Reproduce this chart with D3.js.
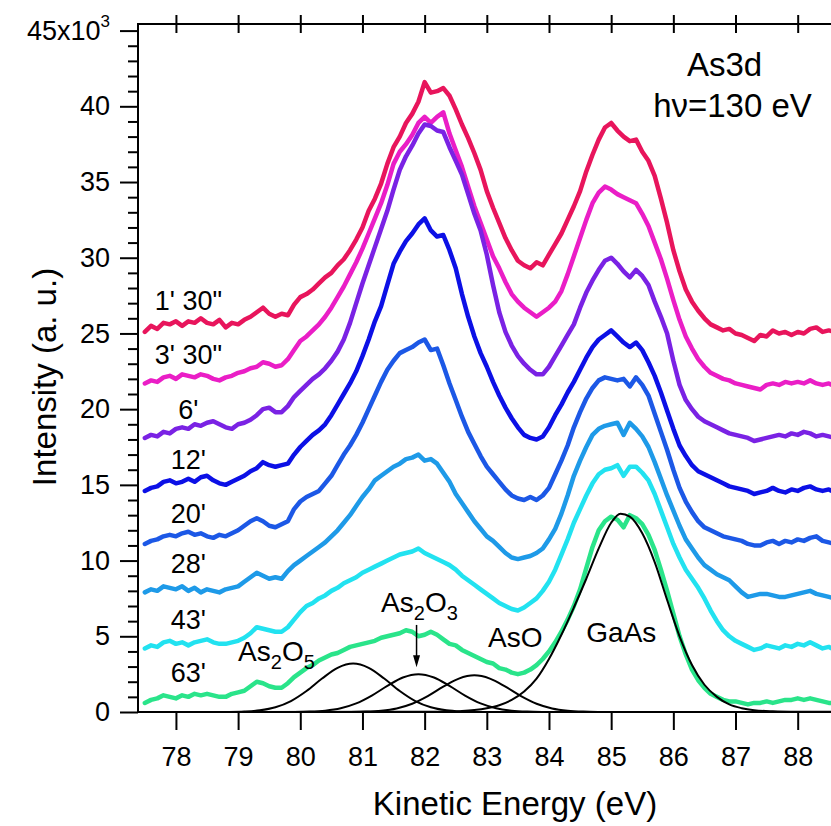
<!DOCTYPE html>
<html>
<head>
<meta charset="utf-8">
<script src="https://cdn.jsdelivr.net/npm/d3@7"></script>
<style>
  body { margin: 0; background: #fff; }
  svg { display: block; }
  text { font-family: "Liberation Sans", Arial, Helvetica, sans-serif; fill: #000; }
</style>
</head>
<body>
<svg id="chart" width="831" height="826"></svg>
<script>
// Kinetic energy grid (eV) shared by every spectrum
const energy = [
  77.5,77.6,77.7,77.8,77.9,78.0,78.1,78.2,78.3,78.4,
  78.5,78.6,78.7,78.8,78.9,79.0,79.1,79.2,79.3,79.4,
  79.5,79.6,79.7,79.8,79.9,80.0,80.1,80.2,80.3,80.4,
  80.5,80.6,80.7,80.8,80.9,81.0,81.1,81.2,81.3,81.4,
  81.5,81.6,81.7,81.8,81.9,82.0,82.1,82.2,82.3,82.4,
  82.5,82.6,82.7,82.8,82.9,83.0,83.1,83.2,83.3,83.4,
  83.5,83.6,83.7,83.8,83.9,84.0,84.1,84.2,84.3,84.4,
  84.5,84.6,84.7,84.8,84.9,85.0,85.1,85.2,85.3,85.4,
  85.5,85.6,85.7,85.8,85.9,86.0,86.1,86.2,86.3,86.4,
  86.5,86.6,86.7,86.8,86.9,87.0,87.1,87.2,87.3,87.4,
  87.5,87.6,87.7,87.8,87.9,88.0,88.1,88.2,88.3,88.4,
  88.5,88.6
];

// As3d intensity (x10^3 counts) after each oxidation time
const t1m30 = [
  25.1,25.5,25.3,25.7,25.6,25.8,25.5,25.8,25.7,26.0,
  25.7,25.6,25.9,25.4,25.7,25.6,25.9,26.1,26.4,26.7,
  26.3,26.1,26.3,26.2,26.9,27.4,27.6,27.9,28.3,28.7,
  29.0,29.5,29.9,30.5,31.2,32.0,33.1,33.9,34.9,36.2,
  37.3,38.0,38.9,39.5,40.3,41.6,40.9,41.0,41.2,40.7,
  39.8,38.8,37.9,36.9,35.8,34.4,33.3,32.3,31.3,30.5,
  29.8,29.5,29.3,29.7,29.5,30.2,30.9,31.6,32.5,33.4,
  34.4,35.7,36.8,37.8,38.6,38.9,38.4,38.0,37.7,37.8,
  37.0,36.4,35.4,33.9,32.3,30.5,29.1,27.9,27.1,26.5,
  26.0,25.6,25.4,25.2,25.3,25.0,24.9,24.7,24.5,24.9,
  24.8,25.2,25.0,25.1,24.9,25.1,25.0,25.3,25.4,25.1,
  25.2,25.1
];
const t3m30 = [
  21.7,21.9,21.8,22.1,22.2,22.0,22.3,22.2,22.1,22.3,
  22.2,22.0,21.9,22.1,22.2,22.4,22.5,22.7,22.8,23.1,
  23.0,22.8,22.9,23.3,23.9,24.5,24.8,25.2,25.6,26.1,
  26.7,27.4,28.1,28.9,29.7,30.6,31.6,32.6,33.6,34.8,
  36.2,37.0,37.5,38.1,38.9,39.3,38.9,39.3,39.6,38.2,
  37.1,36.0,34.7,33.4,32.3,31.2,30.1,29.3,28.4,27.6,
  27.1,26.7,26.4,26.1,26.4,26.7,27.1,27.8,28.9,30.1,
  31.3,32.5,33.6,34.3,34.7,34.5,34.2,34.0,33.8,33.6,
  32.9,32.1,31.0,29.9,28.6,27.2,25.9,24.8,24.0,23.3,
  22.8,22.4,22.2,22.0,21.9,21.7,21.6,21.5,21.4,21.3,
  21.6,21.7,21.6,21.8,21.7,21.8,21.7,21.9,21.7,21.6,
  21.7,21.5
];
const t6m = [
  18.1,18.3,18.2,18.5,18.4,18.7,18.8,18.7,19.0,18.9,
  19.1,19.2,19.0,18.8,18.7,19.0,19.1,19.3,19.6,20.0,
  20.1,19.8,19.8,20.2,20.8,21.2,21.6,22.0,22.3,22.7,
  23.2,23.8,24.6,25.7,27.0,28.3,29.5,30.7,31.9,33.1,
  34.5,35.8,36.7,37.4,38.2,38.8,38.7,38.4,38.3,37.3,
  36.4,35.5,34.2,32.9,31.8,30.2,28.2,26.4,25.1,24.2,
  23.5,23.0,22.6,22.3,22.3,22.8,23.5,24.2,24.9,25.6,
  26.7,27.7,28.5,29.2,29.8,30.0,29.6,29.1,28.7,29.2,
  28.8,28.2,27.1,26.1,25.0,23.2,21.6,20.6,20.0,19.5,
  19.2,19.0,18.8,18.6,18.4,18.3,18.2,18.1,17.9,18.0,
  18.1,18.2,18.3,18.2,18.4,18.3,18.5,18.4,18.2,18.3,
  18.2,18.1
];
const t12m = [
  14.6,14.8,14.9,15.2,15.3,15.1,15.2,15.4,15.2,15.5,
  15.6,15.3,15.1,15.0,15.2,15.4,15.6,15.9,16.1,16.5,
  16.3,16.2,16.3,16.4,17.0,17.5,17.9,18.3,18.6,19.0,
  19.6,20.3,21.0,21.7,22.5,23.5,24.6,25.8,26.8,28.2,
  29.6,30.4,31.1,31.6,32.2,32.6,31.8,31.4,31.5,30.5,
  29.3,27.6,26.1,24.8,23.7,22.8,21.8,20.9,20.1,19.4,
  18.8,18.3,18.1,18.0,18.2,18.8,19.6,20.3,21.1,21.8,
  22.6,23.4,24.1,24.6,24.9,25.2,24.8,24.4,24.1,24.4,
  23.9,23.1,22.2,21.1,19.9,18.7,17.6,16.9,16.3,15.9,
  15.7,15.5,15.3,15.1,14.9,14.8,14.7,14.6,14.4,14.5,
  14.6,14.8,14.6,14.5,14.7,14.6,14.8,14.9,14.7,14.6,
  14.7,14.5
];
const t20m = [
  11.1,11.3,11.4,11.6,11.7,11.6,11.8,11.9,11.7,11.8,
  11.6,11.5,11.7,11.6,11.8,12.0,12.3,12.6,12.8,12.6,
  12.3,12.2,12.4,12.6,13.4,13.9,14.2,14.4,14.6,15.1,
  15.6,16.3,17.0,17.6,18.3,19.1,20.0,20.9,21.8,22.6,
  23.2,23.7,23.9,24.1,24.4,24.6,23.9,24.0,22.9,21.7,
  20.6,19.5,18.5,17.7,16.9,16.2,15.7,15.2,14.7,14.3,
  14.1,14.0,14.2,14.0,14.3,14.8,15.7,16.6,17.6,18.8,
  19.8,20.7,21.4,21.9,22.1,22.0,21.9,22.0,21.5,22.1,
  21.6,20.9,19.7,18.5,17.3,16.0,14.8,13.9,13.2,12.6,
  12.2,12.0,11.8,11.6,11.5,11.4,11.3,11.1,11.0,11.0,
  11.2,11.3,11.1,11.3,11.2,11.4,11.3,11.5,11.6,11.3,
  11.2,11.1
];
const t28m = [
  7.9,8.1,8.0,8.3,8.2,8.1,8.3,8.0,8.2,7.9,
  8.1,8.0,7.9,8.1,8.2,8.3,8.6,8.9,9.2,9.0,
  8.8,8.9,8.8,9.3,9.7,10.0,10.3,10.6,10.9,11.2,
  11.6,12.0,12.5,13.0,13.6,14.2,14.7,15.3,15.6,15.9,
  16.2,16.4,16.7,16.8,17.0,16.6,16.7,16.4,15.8,15.2,
  14.4,13.8,13.2,12.6,12.1,11.6,11.3,10.9,10.5,10.2,
  10.1,10.2,10.3,10.5,10.8,11.4,12.1,13.1,14.3,15.6,
  16.6,17.5,18.3,18.7,18.9,19.0,19.1,18.3,19.1,18.7,
  18.2,17.5,16.5,15.4,14.3,13.3,12.3,11.4,10.8,10.2,
  9.7,9.4,9.1,8.9,8.7,8.3,7.9,7.6,7.7,7.8,
  7.8,7.7,7.6,7.6,7.7,7.8,7.9,8.0,7.8,7.7,
  7.6,7.5
];
const t43m = [
  4.2,4.4,4.3,4.6,4.7,4.5,4.6,4.4,4.6,4.7,
  4.8,4.6,4.5,4.5,4.6,4.7,4.9,5.2,5.6,5.5,
  5.4,5.3,5.3,5.6,6.1,6.6,7.0,7.2,7.5,7.7,
  8.0,8.2,8.5,8.7,8.9,9.2,9.4,9.6,9.8,10.0,
  10.2,10.4,10.5,10.6,10.8,10.5,10.3,10.1,9.9,9.7,
  9.4,9.0,8.7,8.4,8.1,7.8,7.5,7.2,7.0,6.8,
  6.7,6.9,7.2,7.5,8.0,8.6,9.4,10.4,11.4,12.5,
  13.4,14.3,15.1,15.7,16.0,16.1,16.3,15.6,16.2,16.2,
  15.8,15.3,14.4,13.3,12.2,11.1,10.2,9.4,8.8,8.2,
  7.5,6.7,6.0,5.4,5.0,4.7,4.5,4.3,4.1,4.2,
  4.4,4.3,4.2,4.4,4.3,4.5,4.4,4.6,4.4,4.2,
  4.3,4.1
];
const t63m = [
  0.6,0.8,0.9,1.1,1.0,0.9,1.1,1.0,1.2,1.1,
  1.2,1.1,1.0,1.0,1.2,1.3,1.4,1.7,2.0,1.9,
  1.7,1.6,1.6,1.9,2.3,2.6,2.9,3.1,3.4,3.6,
  3.8,3.9,4.1,4.3,4.4,4.5,4.6,4.7,4.9,5.0,
  5.1,5.2,5.4,5.3,5.0,5.1,5.3,5.1,4.8,4.5,
  4.4,4.1,3.9,3.7,3.5,3.3,3.2,2.9,2.8,2.6,
  2.5,2.6,2.8,3.1,3.5,4.0,4.6,5.3,6.1,7.0,
  8.1,9.5,10.9,12.0,12.6,12.9,12.7,12.2,13.0,12.8,
  12.4,11.7,10.7,9.4,8.0,6.5,5.0,3.8,2.8,2.1,
  1.6,1.2,1.0,0.8,0.7,0.7,0.6,0.5,0.6,0.6,
  0.7,0.6,0.7,0.8,0.8,0.9,0.8,0.9,0.8,0.7,
  0.6,0.6
];

const spectra = [t1m30, t3m30, t6m, t12m, t20m, t28m, t43m, t63m];
const timeLabels = ["1' 30\"", "3' 30\"", "6'", "12'", "20'", "28'", "43'", "63'"];
const timeColors = ["#e8155c", "#ea1ec6", "#7a22e4", "#0c10e6", "#1c58e6", "#1e9ae8", "#22e2f0", "#2ae48a"];

// Fitted components of the 63' spectrum: [energy, intensity]
const fitAs2O5 = [[77.5,0],[78.6,0.002],[78.85,0.008],[79.1,0.034],[79.35,0.113],[79.6,0.314],[79.85,0.723],[80.1,1.386],[80.35,2.208],[80.6,2.915],[80.85,3.2],[81.1,2.915],[81.35,2.208],[81.6,1.386],[81.85,0.723],[82.1,0.314],[82.35,0.113],[82.6,0.034],[82.85,0.008],[83.1,0.002],[88.6,0]];
const fitAs2O3 = [[77.5,0],[79.65,0.0014],[79.9,0.0065],[80.15,0.026],[80.4,0.088],[80.65,0.245],[80.9,0.565],[81.15,1.083],[81.4,1.725],[81.65,2.278],[81.9,2.5],[82.15,2.278],[82.4,1.725],[82.65,1.083],[82.9,0.565],[83.15,0.245],[83.4,0.088],[83.65,0.026],[83.9,0.0065],[84.15,0.0014],[88.6,0]];
const fitAsO = [[77.5,0],[80.55,0.0013],[80.8,0.0063],[81.05,0.025],[81.3,0.085],[81.55,0.237],[81.8,0.547],[82.05,1.048],[82.3,1.67],[82.55,2.205],[82.8,2.42],[83.05,2.205],[83.3,1.67],[83.55,1.048],[83.8,0.547],[84.05,0.237],[84.3,0.085],[84.55,0.025],[84.8,0.0063],[85.05,0.0013],[88.6,0]];
const fitGaAs = [[77.5,0],[82.4,0.02],[82.6,0.06],[82.8,0.13],[83.0,0.25],[83.2,0.45],[83.4,0.8],[83.6,1.35],[83.8,2.2],[84.0,3.5],[84.2,5.1],[84.4,6.9],[84.6,8.8],[84.8,10.8],[85.0,12.5],[85.15,13.1],[85.3,12.9],[85.5,11.8],[85.7,9.9],[85.9,7.4],[86.1,5.0],[86.3,3.1],[86.5,1.8],[86.7,1.0],[86.9,0.5],[87.1,0.25],[87.3,0.12],[87.6,0.05],[88.0,0.02],[88.6,0.01]];
const fitComponents = [fitAs2O5, fitAs2O3, fitAsO, fitGaAs];

const xTicks = [78, 79, 80, 81, 82, 83, 84, 85, 86, 87, 88];
const yMajorTicks = [0, 5, 10, 15, 20, 25, 30, 35, 40, 45];

// ---- layout ----
const svg = d3.select("#chart");
const plotLeft = 138, plotTop = 24, plotBottom = 712, plotRight = 831;

const x = d3.scaleLinear().domain([77.39, 88.6]).range([plotLeft, 835]);
const y = d3.scaleLinear().domain([0, 45]).range([plotBottom, 30.6]);

svg.append("rect").attr("width", 831).attr("height", 826).attr("fill", "#fff");

// spectra
const line = d3.line()
  .x((d, i) => x(energy[i]))
  .y(d => y(d));

svg.append("g").selectAll("path")
  .data(spectra)
  .join("path")
  .attr("d", line)
  .attr("fill", "none")
  .attr("stroke", (d, i) => timeColors[i])
  .attr("stroke-width", 4.5)
  .attr("stroke-linejoin", "round")
  .attr("stroke-linecap", "round");

// fitted components
const fitLine = d3.line()
  .x(d => x(d[0]))
  .y(d => y(d[1]))
  .curve(d3.curveMonotoneX);

svg.append("g").selectAll("path")
  .data(fitComponents)
  .join("path")
  .attr("d", fitLine)
  .attr("fill", "none")
  .attr("stroke", "#000")
  .attr("stroke-width", 2);

// time labels beside each spectrum
svg.append("g").selectAll("text")
  .data(spectra)
  .join("text")
  .attr("x", x(78.2))
  .attr("y", d => y(d[3]) - 13)
  .attr("text-anchor", "middle")
  .attr("font-size", 27)
  .text((d, i) => timeLabels[i]);

// ---- axes ----
const axisStyle = g => {
  g.select(".domain").remove();
  g.selectAll(".tick line").attr("stroke", "#000").attr("stroke-width", 2);
  g.selectAll(".tick text").attr("font-size", 27).attr("fill", "#000")
    .attr("font-family", "Liberation Sans, Arial, sans-serif");
};

svg.append("g")
  .attr("transform", `translate(0,${plotBottom})`)
  .call(d3.axisBottom(x).tickValues(xTicks).tickSize(18).tickPadding(17).tickFormat(d3.format("d")))
  .call(axisStyle);

// top frame ticks crossing the line
svg.append("g")
  .attr("transform", `translate(0,${plotTop})`)
  .call(d3.axisTop(x).tickValues(xTicks).tickSize(9).tickFormat(""))
  .call(axisStyle);
svg.append("g")
  .attr("transform", `translate(0,${plotTop})`)
  .call(d3.axisBottom(x).tickValues(xTicks).tickSize(9).tickFormat(""))
  .call(axisStyle);

const yMinorTicks = d3.range(1, 45).filter(v => v % 5 !== 0);
svg.append("g")
  .attr("transform", `translate(${plotLeft},0)`)
  .call(d3.axisLeft(y).tickValues(yMinorTicks).tickSize(10).tickFormat(""))
  .call(axisStyle);

const gy = svg.append("g")
  .attr("transform", `translate(${plotLeft},0)`)
  .call(d3.axisLeft(y).tickValues(yMajorTicks).tickSize(18).tickPadding(10).tickFormat(d3.format("d")))
  .call(axisStyle);

// top label written as 45x10^3
gy.selectAll(".tick text").filter(d => d === 45).each(function () {
  const t = d3.select(this).text(null);
  t.append("tspan").text("45x10");
  t.append("tspan").attr("dy", "-0.75em").attr("font-size", 17).text("3");
});

// frame lines
const frame = svg.append("g").attr("stroke", "#000").attr("stroke-width", 2);
frame.append("line").attr("x1", plotLeft).attr("x2", plotLeft).attr("y1", plotTop - 1).attr("y2", plotBottom + 1);
frame.append("line").attr("x1", plotLeft).attr("x2", plotRight).attr("y1", plotBottom).attr("y2", plotBottom);
frame.append("line").attr("x1", plotLeft).attr("x2", plotRight).attr("y1", plotTop).attr("y2", plotTop);

// axis titles
svg.append("text")
  .attr("x", 515).attr("y", 815)
  .attr("text-anchor", "middle")
  .attr("font-size", 33)
  .text("Kinetic Energy (eV)");

svg.append("text")
  .attr("transform", "translate(55.5,377) rotate(-90)")
  .attr("text-anchor", "middle")
  .attr("font-size", 33)
  .text("Intensity (a. u.)");

// core level and photon energy
svg.append("text").attr("x", 724.5).attr("y", 76)
  .attr("text-anchor", "middle").attr("font-size", 33).text("As3d");
svg.append("text").attr("x", 732.5).attr("y", 117)
  .attr("text-anchor", "middle").attr("font-size", 33).text("h\u03BD=130 eV");

// component labels with subscripts
function chemLabel(parts, ex, ey) {
  const t = svg.append("text").attr("x", x(ex)).attr("y", y(ey)).attr("font-size", 28);
  let shifted = false;
  parts.forEach(p => {
    const sub = /^[0-9]$/.test(p);
    const ts = t.append("tspan").text(p);
    if (sub) { ts.attr("font-size", 20).attr("dy", 8); shifted = true; }
    else if (shifted) { ts.attr("dy", -8); shifted = false; }
  });
}
chemLabel(["As", "2", "O", "5"], 79.0, 3.4);
chemLabel(["As", "2", "O", "3"], 81.3, 6.6);
chemLabel(["AsO"], 83.02, 4.3);
chemLabel(["GaAs"], 84.6, 4.6);

// arrow pointing to the As2O3 component
const arrowX = x(81.87);
svg.append("line")
  .attr("x1", arrowX).attr("x2", arrowX)
  .attr("y1", y(5.75)).attr("y2", y(3.5))
  .attr("stroke", "#000").attr("stroke-width", 1.5);
svg.append("path")
  .attr("d", `M${arrowX},${y(2.95)} L${arrowX - 3.5},${y(3.75)} L${arrowX + 3.5},${y(3.75)} Z`)
  .attr("fill", "#000");
</script>
</body>
</html>
